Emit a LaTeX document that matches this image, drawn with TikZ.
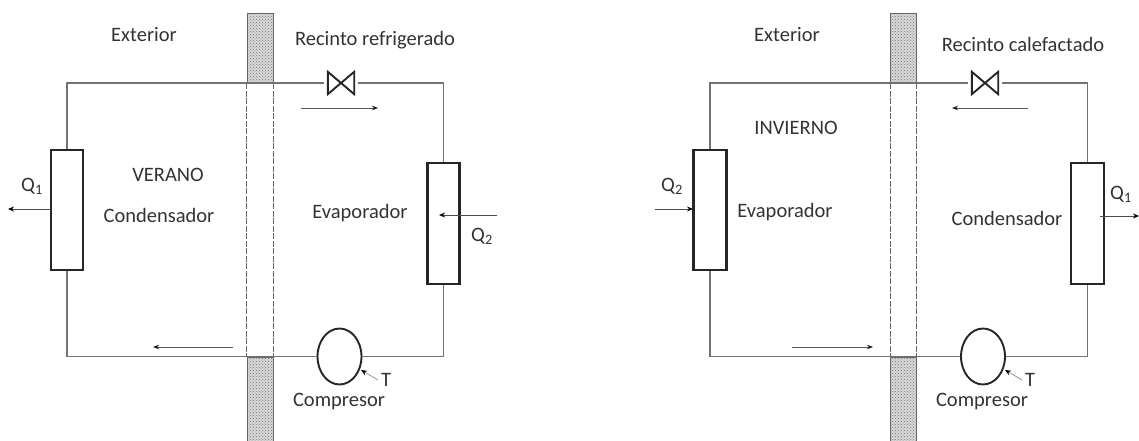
\documentclass[tikz,border=0pt]{standalone}
\usepackage{fontspec}
\setmainfont{Carlito}
\usetikzlibrary{shapes.geometric,arrows.meta,patterns,calc}
\tikzset{
  lbl/.style={font=\fontsize{20.5}{22}\selectfont,text=black!80,inner sep=0pt},
  pipe/.style={draw=black!55,line width=1.2pt},
  exch/.style={draw=black!85,line width=2.3pt,fill=white,minimum width=32pt,minimum height=120pt,inner sep=0pt},
  comp/.style={ellipse,draw=black!85,line width=1.9pt,fill=white,minimum width=44pt,minimum height=56pt,inner sep=0pt},
  wall/.style={draw=black!60,line width=0.6pt,preaction={fill=black!15},pattern=crosshatch dots,pattern color=black!55,minimum width=26pt,inner sep=0pt},
  valve/.style={minimum width=34pt,minimum height=22pt,inner sep=0pt},
  bow/.style={draw=black!85,line width=1.9pt,line join=miter},
  flow/.style={draw=black!65,line width=0.9pt,-{Stealth[length=6pt,width=4.5pt,black!90]}},
  heat/.style={draw=black!70,line width=1pt,-{Stealth[length=6pt,width=5pt,black]}},
  lead/.style={draw=black!45,line width=0.7pt,-{Stealth[length=6pt,width=5pt,black]}},
  wallline/.style={draw=black!60,line width=0.7pt,dash pattern=on 6pt off 1.5pt}
}
\begin{document}
\begin{tikzpicture}[x=1pt,y=-1pt]
\useasboundingbox (0,0) rectangle (1139,441);
% ---------- VERANO ----------
\node[wall,minimum height=70pt] (wa1) at (260,48) {};
\node[wall,minimum height=84pt] (wb1) at (260,399) {};
\node[exch] (c1) at (67,210) {};
\node[exch,minimum height=121pt] (e1) at (443.5,223.5) {};
\node[valve] (v1) at (341,83) {};
\node[comp] (k1) at (339.5,356.5) {};
\draw[pipe] (c1.north) |- (v1.west);
\draw[pipe] (v1.east) -| (e1.north);
\draw[pipe] (e1.south) |- (k1.east);
\draw[pipe] (k1.west) -| (c1.south);
\draw[bow] ($(v1.north west)+(4,0)$) -- ($(v1.south east)+(-4,0)$) -- ($(v1.north east)+(-4,0)$) -- ($(v1.south west)+(4,0)$) -- cycle;
\draw[wallline] (wa1.south west) -- (wb1.north west);
\draw[wallline] (wa1.south east) -- (wb1.north east);
\coordinate (f1a) at (301,108); \coordinate (f1b) at (378,108);
\coordinate (f2a) at (233,347); \coordinate (f2b) at (153,347);
\draw[flow] (f1a) -- (f1b);
\draw[flow] (f2a) -- (f2b);
\coordinate (q1a) at (51,209); \coordinate (q1b) at (8,209);
\coordinate (q2a) at (497,215); \coordinate (q2b) at (439,215);
\draw[heat] (q1a) -- (q1b);
\draw[heat] (q2a) -- (q2b);
\node[lbl] (t1) at (386,380) {T};
\coordinate (l1a) at (378,380); \coordinate (l1b) at (361,370);
\draw[lead] (l1a) -- (l1b);
\node[lbl] at (144,35) {Exterior};
\node[lbl] at (375,40) {Recinto refrigerado};
\node[lbl] at (168,175) {VERANO};
\node[lbl] at (159,215) {Condensador};
\node[lbl] at (360,213) {Evaporador};
\node[lbl] at (32,186) {Q\textsubscript{1}};
\node[lbl] at (482,236) {Q\textsubscript{2}};
\node[lbl] at (339,401) {Compresor};
% ---------- INVIERNO ----------
\node[wall,minimum height=70pt] (wa2) at (903.5,48) {};
\node[wall,minimum height=84pt] (wb2) at (903.5,399) {};
\node[exch,minimum width=33pt] (e2) at (710,210) {};
\node[exch,minimum width=33pt,minimum height=121pt] (c2) at (1087.5,223.5) {};
\node[valve] (v2) at (985,83) {};
\node[comp] (k2) at (983,356.5) {};
\draw[pipe] (e2.north) |- (v2.west);
\draw[pipe] (v2.east) -| (c2.north);
\draw[pipe] (c2.south) |- (k2.east);
\draw[pipe] (k2.west) -| (e2.south);
\draw[bow] ($(v2.north west)+(4,0)$) -- ($(v2.south east)+(-4,0)$) -- ($(v2.north east)+(-4,0)$) -- ($(v2.south west)+(4,0)$) -- cycle;
\draw[wallline] (wa2.south west) -- (wb2.north west);
\draw[wallline] (wa2.south east) -- (wb2.north east);
\coordinate (f3a) at (1028,108); \coordinate (f3b) at (952,108);
\coordinate (f4a) at (792,347); \coordinate (f4b) at (873,347);
\draw[flow] (f3a) -- (f3b);
\draw[flow] (f4a) -- (f4b);
\coordinate (q3a) at (655,209); \coordinate (q3b) at (693,209);
\coordinate (q4a) at (1100,216); \coordinate (q4b) at (1139,216);
\draw[heat] (q3a) -- (q3b);
\draw[heat] (q4a) -- (q4b);
\node[lbl] (t2) at (1030,380) {T};
\coordinate (l2a) at (1022,380); \coordinate (l2b) at (1005,370);
\draw[lead] (l2a) -- (l2b);
\node[lbl] at (787,35) {Exterior};
\node[lbl] at (1023,44) {Recinto calefactado};
\node[lbl] at (796,128) {INVIERNO};
\node[lbl] at (785,212) {Evaporador};
\node[lbl] at (1007,218) {Condensador};
\node[lbl] at (672,186) {Q\textsubscript{2}};
\node[lbl] at (1121,194) {Q\textsubscript{1}};
\node[lbl] at (982,401) {Compresor};
\end{tikzpicture}
\end{document}
